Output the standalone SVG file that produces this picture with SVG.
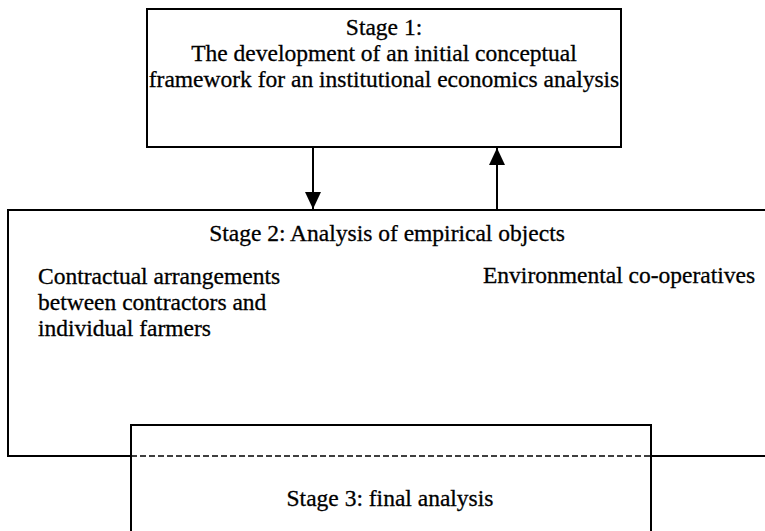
<svg xmlns="http://www.w3.org/2000/svg" width="765" height="531" viewBox="0 0 765 531">
  <style>
    .box { fill: none; stroke: #000; stroke-width: 2; }
    .edge { fill: none; stroke: #000; stroke-width: 2; }
    .dash { fill: none; stroke: #000; stroke-width: 1.6; stroke-dasharray: 6 3; }
    .t { font-family: "Liberation Serif", "Times New Roman", serif; font-size: 23.5px; fill: #000; stroke: #000; stroke-width: 0.3; }
    .c { text-anchor: middle; }
  </style>
  <defs>
    <marker id="arrow" viewBox="0 0 17 16" refX="17" refY="8" markerWidth="17" markerHeight="16" markerUnits="userSpaceOnUse" orient="auto">
      <path d="M0,0 L17,8 L0,16 Z" fill="#000"/>
    </marker>
  </defs>
  <rect width="765" height="531" fill="#fff"/>

  <g id="stage1">
    <rect class="box" x="147" y="9" width="474" height="138"/>
    <text class="t c" x="384" y="35">Stage 1:</text>
    <text class="t c" x="384" y="61">The development of an initial conceptual</text>
    <text class="t c" x="384" y="87">framework for an institutional economics analysis</text>
  </g>

  <g id="stage2">
    <path class="edge" d="M765,210 H8 V456 H131 M651,456 H765"/>
    <path class="dash" d="M131,456 H651"/>
    <text class="t c" x="387" y="241">Stage 2: Analysis of empirical objects</text>
    <text class="t" x="38" y="284">Contractual arrangements</text>
    <text class="t" x="38" y="310">between contractors and</text>
    <text class="t" x="38" y="336">individual farmers</text>
    <text class="t" x="483" y="283">Environmental co-operatives</text>
  </g>

  <g id="stage3">
    <path class="edge" d="M131,531 V425 H651 V531"/>
    <text class="t c" x="390" y="506">Stage 3: final analysis</text>
  </g>

  <g id="connectors">
    <line class="edge" x1="313" y1="148" x2="313" y2="209" marker-end="url(#arrow)"/>
    <line class="edge" x1="497" y1="209" x2="497" y2="148" marker-end="url(#arrow)"/>
  </g>
</svg>
